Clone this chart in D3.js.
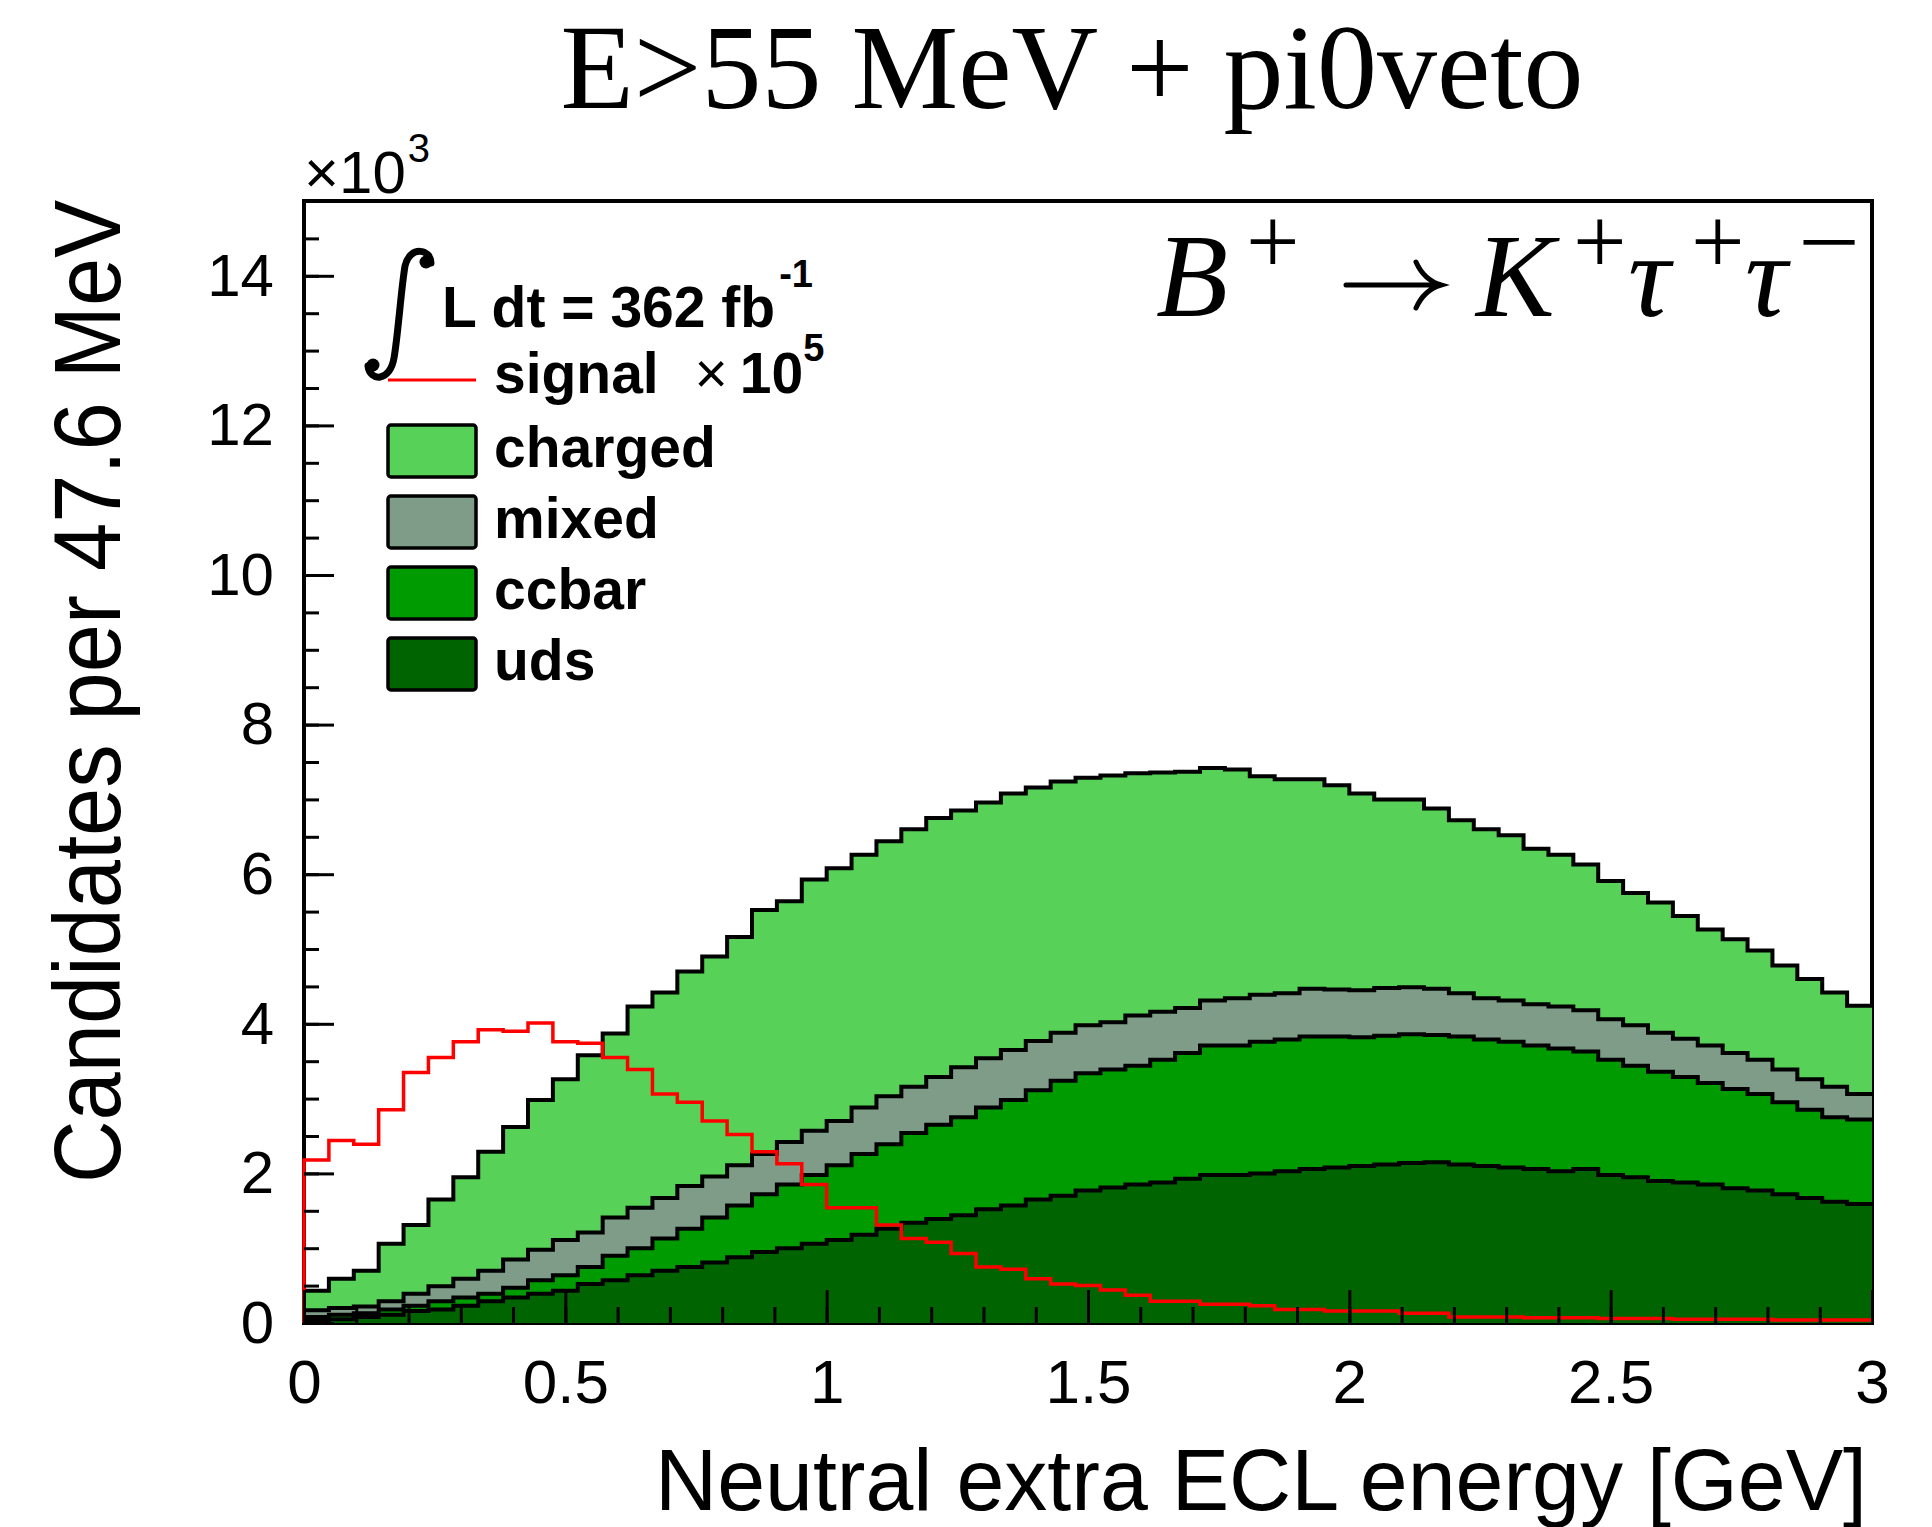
<!DOCTYPE html>
<html>
<head>
<meta charset="utf-8">
<script src="https://cdn.jsdelivr.net/npm/d3@7/dist/d3.min.js"></script>
<style>
    body { margin: 0; background: #fff; }
    svg { display: block; }
</style>
</head>
<body>
<div id="chart"></div>
<script>
// bin contents in units of 10^3 candidates, 63 bins of 47.6 MeV from 0 to 3 GeV
var uds = [0.03, 0.05, 0.08, 0.11, 0.16, 0.18, 0.23, 0.29, 0.34, 0.39,
    0.43, 0.52, 0.57, 0.64, 0.70, 0.75, 0.81, 0.88, 0.95, 1.00,
    1.06, 1.11, 1.18, 1.26, 1.34, 1.39, 1.44, 1.52, 1.57, 1.65,
    1.70, 1.77, 1.81, 1.85, 1.88, 1.93, 1.98, 1.98, 2.00, 2.03,
    2.06, 2.08, 2.10, 2.12, 2.14, 2.15, 2.12, 2.10, 2.08, 2.06,
    2.03, 2.06, 1.98, 1.95, 1.90, 1.88, 1.85, 1.80, 1.77, 1.72,
    1.67, 1.62, 1.59];
var ccbar = [0.05, 0.06, 0.05, 0.07, 0.07, 0.11, 0.11, 0.10, 0.13, 0.18,
    0.21, 0.23, 0.33, 0.36, 0.43, 0.51, 0.60, 0.69, 0.77, 0.85,
    0.92, 1.00, 1.08, 1.13, 1.20, 1.26, 1.31, 1.36, 1.41, 1.46,
    1.54, 1.57, 1.58, 1.59, 1.64, 1.68, 1.73, 1.73, 1.76, 1.76,
    1.77, 1.75, 1.72, 1.72, 1.72, 1.70, 1.71, 1.69, 1.68, 1.65,
    1.64, 1.57, 1.54, 1.49, 1.46, 1.41, 1.36, 1.33, 1.29, 1.23,
    1.18, 1.13, 1.13];
var mixed = [0.09, 0.09, 0.09, 0.11, 0.16, 0.20, 0.25, 0.31, 0.38, 0.41,
    0.47, 0.46, 0.51, 0.54, 0.54, 0.57, 0.55, 0.54, 0.54, 0.57,
    0.59, 0.59, 0.62, 0.64, 0.62, 0.64, 0.67, 0.66, 0.67, 0.66,
    0.64, 0.64, 0.63, 0.67, 0.64, 0.60, 0.60, 0.63, 0.63, 0.62,
    0.64, 0.63, 0.63, 0.64, 0.63, 0.62, 0.58, 0.55, 0.55, 0.55,
    0.56, 0.55, 0.54, 0.54, 0.52, 0.51, 0.50, 0.48, 0.46, 0.44,
    0.41, 0.41, 0.34];
var charged = [0.26, 0.39, 0.48, 0.77, 0.92, 1.16, 1.36, 1.59, 1.77, 2.00,
    2.15, 2.37, 2.46, 2.69, 2.75, 2.87, 2.94, 3.05, 3.26, 3.22,
    3.36, 3.38, 3.38, 3.41, 3.44, 3.46, 3.43, 3.42, 3.43, 3.39,
    3.36, 3.31, 3.30, 3.24, 3.20, 3.16, 3.11, 3.06, 2.92, 2.86,
    2.80, 2.73, 2.63, 2.52, 2.51, 2.41, 2.31, 2.26, 2.21, 2.08,
    2.03, 1.95, 1.85, 1.77, 1.74, 1.64, 1.55, 1.52, 1.46, 1.39,
    1.34, 1.26, 1.18];
// signal x 10^5
var signal = [2.18, 2.44, 2.39, 2.85, 3.35, 3.55, 3.76, 3.92, 3.90, 4.01,
    3.76, 3.74, 3.55, 3.39, 3.06, 2.95, 2.70, 2.52, 2.29, 2.13,
    1.85, 1.54, 1.54, 1.31, 1.13, 1.08, 0.93, 0.75, 0.72, 0.59,
    0.52, 0.50, 0.44, 0.37, 0.29, 0.29, 0.25, 0.25, 0.23, 0.18,
    0.18, 0.16, 0.16, 0.16, 0.13, 0.13, 0.08, 0.08, 0.08, 0.07,
    0.07, 0.07, 0.06, 0.06, 0.06, 0.05, 0.05, 0.05, 0.05, 0.04,
    0.04, 0.04, 0.04];

var xMajorTicks = [0, 0.5, 1, 1.5, 2, 2.5, 3];
var yMajorTicks = [0, 2, 4, 6, 8, 10, 12, 14];
var stackKeys = ["uds", "ccbar", "mixed", "charged"];
var legendKeys = ["charged", "mixed", "ccbar", "uds"];
var fills = { charged: "#57d157", mixed: "#7f9c88", ccbar: "#009b00", uds: "#006400" };

var W = 1932, H = 1527,
    // "top" is taken by window.top, so the frame edges get their own names
    frameLeft = 304, frameRight = 1872, frameTop = 201, frameBottom = 1323,
    nBins = uds.length,
    binWidth = 3 / nBins,
    sans = "'Liberation Sans', Arial, Helvetica, sans-serif",
    serif = "'Liberation Serif', 'Times New Roman', serif";

var svg = d3.select("#chart").append("svg").attr("width", W).attr("height", H);

var x = d3.scaleLinear().domain([0, 3]).range([frameLeft, frameRight]);
var y = d3.scaleLinear().domain([0, 15]).range([frameBottom, frameTop]);

// frame first, the fills cover its inner half like in ROOT
svg.append("rect")
    .attr("x", frameLeft).attr("y", frameTop)
    .attr("width", frameRight - frameLeft).attr("height", frameBottom - frameTop)
    .attr("fill", "none").attr("stroke", "#000").attr("stroke-width", 4);

var rows = d3.range(nBins).map(function (i) {
    return { uds: uds[i], ccbar: ccbar[i], mixed: mixed[i], charged: charged[i] };
});
var series = d3.stack().keys(stackKeys)(rows);

// step points along bin edges, last bin closed at x = 3
function stepPoints(vals) {
    var pts = vals.map(function (v, i) { return [i * binWidth, v]; });
    pts.push([3, vals[vals.length - 1]]);
    return pts;
}

var area = d3.area().curve(d3.curveStepAfter)
    .x(function (p) { return x(p[0]); })
    .y0(y(0))
    .y1(function (p) { return y(p[1]); });
var line = d3.line().curve(d3.curveStepAfter)
    .x(function (p) { return x(p[0]); })
    .y(function (p) { return y(p[1]); });

var hist = svg.append("g");
series.slice().reverse().forEach(function (s) {
    var pts = stepPoints(s.map(function (d) { return d[1]; }));
    hist.append("path").attr("d", area(pts)).attr("fill", fills[s.key]);
    hist.append("path").attr("d", line(pts))
        .attr("fill", "none").attr("stroke", "#000").attr("stroke-width", 4);
});

var sigPts = [[0, 0]].concat(stepPoints(signal));
hist.append("path").attr("d", line(sigPts))
    .attr("fill", "none").attr("stroke", "#ff0000").attr("stroke-width", 3.5);

// axes redrawn on top, ticks pointing into the frame
function styleAxis(g) {
    g.select(".domain").remove();
    g.selectAll(".tick line").attr("stroke", "#000").attr("stroke-width", 3);
    g.selectAll(".tick text").attr("fill", "#000");
}

svg.append("g").attr("transform", "translate(0," + frameBottom + ")")
    .call(d3.axisBottom(x).tickValues(d3.range(0, 3.001, 0.1)).tickSize(-16).tickFormat(""))
    .call(styleAxis);
svg.append("g").attr("transform", "translate(0," + frameBottom + ")")
    .call(d3.axisBottom(x).tickValues(xMajorTicks).tickSize(-33).tickPadding(36).tickFormat(d3.format("~g")))
    .call(styleAxis)
    .selectAll(".tick text").style("font-family", sans).style("font-size", "62px");

svg.append("g").attr("transform", "translate(" + frameLeft + ",0)")
    .call(d3.axisLeft(y).tickValues(d3.range(0, 15.01, 0.5)).tickSize(-15).tickFormat(""))
    .call(styleAxis);
svg.append("g").attr("transform", "translate(" + frameLeft + ",0)")
    .call(d3.axisLeft(y).tickValues(yMajorTicks).tickSize(-30).tickPadding(30))
    .call(styleAxis)
    .selectAll(".tick text").style("font-family", sans).style("font-size", "60px");

// exponent above the y axis
var expo = svg.append("text").attr("x", 304).attr("y", 193)
    .style("font-family", sans).style("font-size", "60px");
expo.append("tspan").text("\u00d710");
expo.append("tspan").attr("dy", -31).attr("dx", 2).style("font-size", "40px").text("3");

// titles
svg.append("text").attr("x", 1072).attr("y", 108).attr("text-anchor", "middle")
    .style("font-family", serif).style("font-size", "120px")
    .text("E>55 MeV + pi0veto");

svg.append("text").attr("x", 1867).attr("y", 1510).attr("text-anchor", "end")
    .style("font-family", sans).style("font-size", "87px")
    .attr("textLength", 1212).attr("lengthAdjust", "spacingAndGlyphs")
    .text("Neutral extra ECL energy [GeV]");

svg.append("text").attr("transform", "translate(120,200) rotate(-90)").attr("text-anchor", "end")
    .style("font-family", sans).style("font-size", "94px")
    .attr("textLength", 983).attr("lengthAdjust", "spacingAndGlyphs")
    .text("Candidates per 47.6 MeV");

// decay label, pieces placed one by one like TLatex does
var decayParts = [
    { t: "B", x: 1156, y: 316, size: 118, italic: true },
    { t: "+", x: 1246, y: 273, size: 95 },
    { t: "K", x: 1476, y: 316, size: 118, italic: true },
    { t: "+", x: 1573, y: 273, size: 95 },
    { t: "\u03c4", x: 1628, y: 316, size: 118, italic: true },
    { t: "+", x: 1691, y: 273, size: 95 },
    { t: "\u03c4", x: 1745, y: 316, size: 118, italic: true },
    { t: "\u2212", x: 1798, y: 274, size: 95, len: 62 }
];
decayParts.forEach(function (p) {
    var t = svg.append("text").attr("x", p.x).attr("y", p.y)
        .style("font-family", serif).style("font-size", p.size + "px")
        .style("font-style", p.italic ? "italic" : "normal")
        .text(p.t);
    if (p.len) t.attr("textLength", p.len).attr("lengthAdjust", "spacingAndGlyphs");
});
// the arrow glyph is tiny in the installed serif, so draw it
svg.append("path")
    .attr("d", "M1346,285 L1436,285 M1416,262 Q1424,280 1441,285 Q1424,290 1416,308")
    .attr("fill", "none").attr("stroke", "#000").attr("stroke-width", 5)
    .attr("stroke-linecap", "round");

// legend
var legend = svg.append("g").style("font-family", sans).style("font-weight", "bold");

// integral sign
legend.append("path")
    .attr("d", "M431,263 C431,249 410,245 405,266 C401,290 398,335 394,358 C390,382 370,382 368,366")
    .attr("fill", "none").attr("stroke", "#000").attr("stroke-width", 7)
    .attr("stroke-linecap", "round");
legend.append("circle").attr("cx", 426).attr("cy", 262).attr("r", 6.5).attr("fill", "#000");
legend.append("circle").attr("cx", 373).attr("cy", 365).attr("r", 6.5).attr("fill", "#000");

var lumi = legend.append("text").attr("x", 442).attr("y", 327).style("font-size", "57px");
lumi.append("tspan").text("L dt = 362 fb");
lumi.append("tspan").attr("dy", -40).attr("dx", 4).style("font-size", "38px").text("-1");

legend.append("line").attr("x1", 388).attr("x2", 476).attr("y1", 380).attr("y2", 380)
    .attr("stroke", "#ff0000").attr("stroke-width", 3);
var sig = legend.append("text").attr("x", 494).attr("y", 393).style("font-size", "57px");
sig.append("tspan").text("signal ");
sig.append("tspan").attr("dx", 20).style("font-weight", "normal").text("\u00d7");
sig.append("tspan").attr("dx", 12).text("10");
sig.append("tspan").attr("dy", -32).style("font-size", "38px").text("5");

var rowY = d3.scalePoint().domain(legendKeys).range([451, 664]);
legendKeys.forEach(function (k) {
    legend.append("rect")
        .attr("x", 388).attr("y", rowY(k) - 26).attr("width", 88).attr("height", 52)
        .attr("rx", 3).attr("fill", fills[k]).attr("stroke", "#000").attr("stroke-width", 3.5);
    legend.append("text").attr("x", 494).attr("y", rowY(k) + 16)
        .style("font-size", "57px").text(k);
});
</script>
</body>
</html>
